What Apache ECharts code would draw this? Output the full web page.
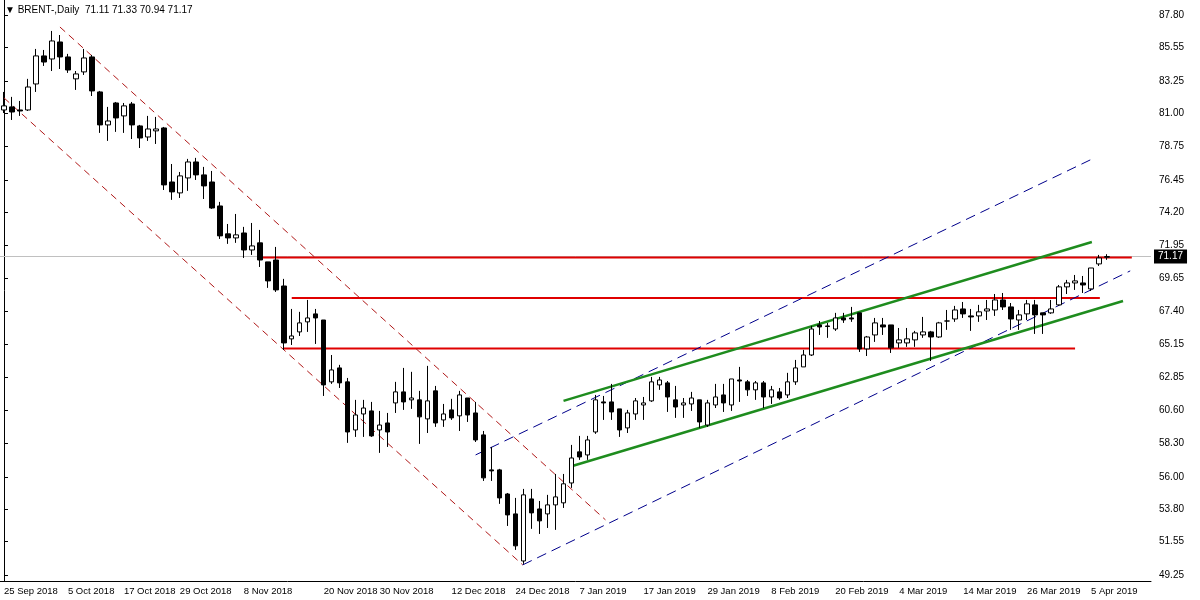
<!DOCTYPE html>
<html><head><meta charset="utf-8">
<script src="https://cdn.jsdelivr.net/npm/echarts@6/dist/echarts.min.js"></script>
<style>html,body{margin:0;padding:0;background:#fff}#c{width:1200px;height:600px}</style>
</head><body><div id="c"></div>
<script>
// candles: [open, close, low, high]
const candles = [
[81.26,81.54,81.05,82.50],[81.47,81.12,80.57,82.16],[81.26,81.19,80.85,81.88],[81.26,82.84,81.19,83.40],
[83.05,84.98,82.50,85.46],[84.98,84.56,84.29,85.39],[84.77,86.01,83.94,86.70],[85.94,84.91,84.08,86.42],
[84.91,84.01,83.81,85.12],[83.40,83.74,82.64,83.94],[83.88,84.84,83.67,85.46],[84.91,82.57,82.22,85.05],
[82.50,80.23,79.68,82.57],[80.23,80.50,79.13,81.47],[81.74,80.71,79.75,81.81],[80.85,81.54,79.68,81.74],
[81.67,80.23,79.26,81.81],[80.16,79.33,78.64,80.23],[79.40,79.95,79.13,80.85],[79.82,79.95,78.92,80.78],
[80.02,76.10,75.75,80.09],[76.30,75.62,75.07,77.54],[75.55,76.72,75.20,76.99],[76.58,77.68,75.69,77.89],
[77.68,76.79,76.44,77.96],[76.79,76.03,75.13,77.34],[76.30,74.51,74.45,77.06],[74.65,72.59,72.38,74.93],
[72.73,72.45,72.04,73.41],[72.45,72.66,72.11,74.10],[72.79,71.62,71.07,73.21],[71.62,71.90,71.28,73.48],
[72.11,70.93,70.45,73.00],[70.80,69.49,69.01,70.80],[70.93,68.87,68.73,71.83],[69.14,65.22,64.74,69.63],
[65.50,65.70,65.08,67.56],[65.98,66.60,65.70,67.36],[66.67,66.94,65.98,68.18],[67.22,66.94,65.15,67.56],
[66.80,62.33,61.57,66.80],[62.54,63.36,62.40,64.39],[63.50,62.47,62.12,63.71],[62.54,59.09,58.34,62.81],
[59.23,60.26,58.75,61.30],[60.33,60.74,58.75,61.30],[60.54,58.82,58.75,61.16],[59.23,59.57,57.65,60.54],
[59.71,59.09,58.06,60.40],[61.09,61.85,60.40,62.54],[61.85,61.16,60.61,63.50],[61.30,61.43,60.68,63.23],
[61.30,60.13,58.27,61.92],[59.99,61.23,59.02,63.64],[61.92,59.71,59.44,62.26],[59.92,60.33,59.44,61.02],
[60.61,60.06,59.92,61.37],[60.20,61.64,59.16,61.92],[61.43,60.26,59.78,61.43],[60.40,58.54,58.40,61.16],
[58.89,55.93,55.72,59.16],[56.48,56.41,55.72,58.06],[56.48,54.55,54.14,56.55],[54.82,53.38,52.62,54.89],
[53.45,51.25,50.97,54.55],[50.21,54.76,50.01,55.17],[54.48,53.52,52.42,55.17],[53.79,52.97,52.07,54.34],
[53.45,54.07,52.48,54.76],[54.07,54.62,52.35,56.20],[54.21,55.52,53.86,56.20],[55.58,57.30,55.24,58.20],
[57.72,57.37,57.17,58.82],[57.51,58.54,57.17,58.82],[59.09,61.30,58.96,61.64],[61.16,61.09,59.92,61.57],
[61.16,60.47,59.92,62.40],[60.68,59.23,58.75,60.68],[59.37,60.40,59.02,60.61],[60.33,61.23,59.92,61.43],
[60.95,61.09,59.92,61.50],[61.23,62.54,61.16,62.88],[62.33,62.67,61.99,62.88],[62.47,61.50,60.47,62.60],
[61.30,60.81,60.06,62.26],[60.95,61.09,60.06,61.43],[61.02,61.43,60.54,61.85],[61.30,59.78,59.37,61.30],
[59.57,61.09,59.44,61.30],[60.95,61.50,60.74,62.40],[61.64,61.09,60.47,62.40],[60.95,62.74,60.54,62.74],
[62.67,62.60,61.16,63.57],[62.54,61.99,61.57,62.67],[61.99,62.47,61.30,62.60],[62.47,61.50,60.74,62.60],
[61.50,61.99,61.02,62.26],[61.85,61.43,61.30,62.12],[61.64,62.54,61.43,63.16],[62.54,63.50,62.33,64.05],
[63.57,64.39,63.57,64.74],[64.39,66.18,64.32,66.39],[66.46,66.32,65.77,66.73],[66.39,66.35,65.57,66.60],
[66.18,66.94,66.05,67.29],[66.94,66.80,66.60,67.29],[66.94,66.87,66.67,67.70],[67.29,64.81,64.60,67.29],
[64.81,65.63,64.32,65.70],[65.77,66.60,65.29,66.94],[66.46,66.32,65.77,66.94],[66.46,64.88,64.53,66.46],
[65.22,65.43,64.88,66.25],[65.22,65.50,64.95,66.25],[65.43,65.91,64.95,66.05],[65.77,65.98,65.57,67.01],
[65.98,65.63,63.98,66.05],[65.63,66.60,65.57,66.67],[66.73,66.73,66.12,67.49],[66.87,67.49,66.67,67.77],
[67.56,67.22,66.94,68.04],[67.08,67.01,66.05,67.56],[67.08,67.36,66.67,67.84],[67.42,67.56,66.80,68.18],
[67.49,68.18,67.08,68.59],[68.18,67.70,67.49,68.66],[67.70,66.87,66.12,67.97],[66.80,67.15,66.12,67.49],
[67.22,67.91,66.80,68.18],[67.84,67.15,65.84,68.18],[67.29,67.15,65.84,67.29],[67.29,67.56,67.22,68.18],
[67.84,69.08,67.77,69.21],[69.08,69.35,68.59,69.56],[69.35,69.49,68.87,69.90],[69.35,69.21,68.66,69.83],
[68.94,70.38,68.80,70.38],[70.66,71.07,70.52,71.28],[71.11,71.17,70.94,71.33]
];
const totalSlots = 144;
const dateLabels = {0:'25 Sep 2018',8:'5 Oct 2018',15:'17 Oct 2018',22:'29 Oct 2018',30:'8 Nov 2018',40:'20 Nov 2018',47:'30 Nov 2018',56:'12 Dec 2018',64:'24 Dec 2018',72:'7 Jan 2019',80:'17 Jan 2019',88:'29 Jan 2019',96:'8 Feb 2019',104:'20 Feb 2019',112:'4 Mar 2019',120:'14 Mar 2019',128:'26 Mar 2019',136:'5 Apr 2019'};
const yTicks = [49.25,51.55,53.80,56.00,58.30,60.60,62.85,65.15,67.40,69.65,71.95,74.20,76.45,78.75,81.00,83.25,85.55,87.80];
const lastPrice = 71.17;
// trend lines: [[x index, price],[x index, price]]
const redLevels = [[[31.9,71.10],[141.1,71.10]],[[36,68.32],[137.1,68.32]],[[35,64.84],[134,64.84]]];
const redChannel = [[[7,86.97],[75.25,53.04]],[[0,82.09],[64.9,49.94]]];
const blueChannel = [[[59,57.51],[135.9,77.82]],[[64.9,49.94],[140.9,70.18]]];
const greenChannel = [[[70,61.23],[136.1,72.17]],[[71.1,56.75],[140,68.11]]];

const cats = Array.from({length: totalSlots}, (_, i) => String(i));
const font = 'Liberation Sans';
function lineSeries(segs, color, width, type) {
  return segs.map(s => ({type:'line', xAxisIndex:1, data:s, symbol:'none', silent:true, animation:false,
    lineStyle:{color, width, type}, z:3}));
}
const chart = echarts.init(document.getElementById('c'));
chart.setOption({
  animation:false,
  backgroundColor:'#fff',
  grid:{left:-1, right:49, top:0, bottom:19},
  xAxis:[{type:'category', data:cats, boundaryGap:true,
    axisLine:{lineStyle:{color:'#000'}},
    axisTick:{interval:(i)=>dateLabels[i]!==undefined, length:3, lineStyle:{color:'#000'}},
    axisLabel:{interval:(i)=>dateLabels[i]!==undefined, formatter:(v)=>dateLabels[+v]||'', align:'left', color:'#000', fontFamily:font, fontSize:9.5, margin:5},
    splitLine:{show:false}},
   {type:'value', min:-0.5, max:totalSlots-0.5, show:false}],
  yAxis:{type:'value', position:'right', min:48.83, max:88.83, scale:true,
    axisLine:{show:true, lineStyle:{color:'#000'}},
    axisTick:{show:true, customValues:yTicks, length:4, lineStyle:{color:'#000'}},
    axisLabel:{customValues:yTicks, formatter:(v)=>v.toFixed(2), color:'#000', fontFamily:font, fontSize:10, margin:8},
    splitLine:{show:false}},
  graphic:[{type:'text', left:5, top:5, style:{text:'▼ BRENT-,Daily  71.11 71.33 70.94 71.17', fill:'#000', font:'10px Liberation Sans'}}],
  series:[
    {type:'candlestick', data:candles, barWidth:5, z:4,
     itemStyle:{color:'#fff', color0:'#000', borderColor:'#000', borderColor0:'#000', borderWidth:1},
     markLine:{symbol:'none', silent:true, animation:false, z:1,
       lineStyle:{color:'#c0c0c0', width:1, type:'solid'},
       label:{position:'end', formatter:lastPrice.toFixed(2), backgroundColor:'#000', color:'#fff', fontFamily:font, fontSize:10, padding:[2,4], distance:3},
       data:[{yAxis:lastPrice}]}},
    ...lineSeries(redLevels, '#e00000', 2, 'solid'),
    ...lineSeries(redChannel, '#b01818', 1, [7,5]),
    ...lineSeries(blueChannel, '#00008b', 1, [10,6]),
    ...lineSeries(greenChannel, '#1e8c1e', 2.5, 'solid')
  ]
});
</script></body></html>
